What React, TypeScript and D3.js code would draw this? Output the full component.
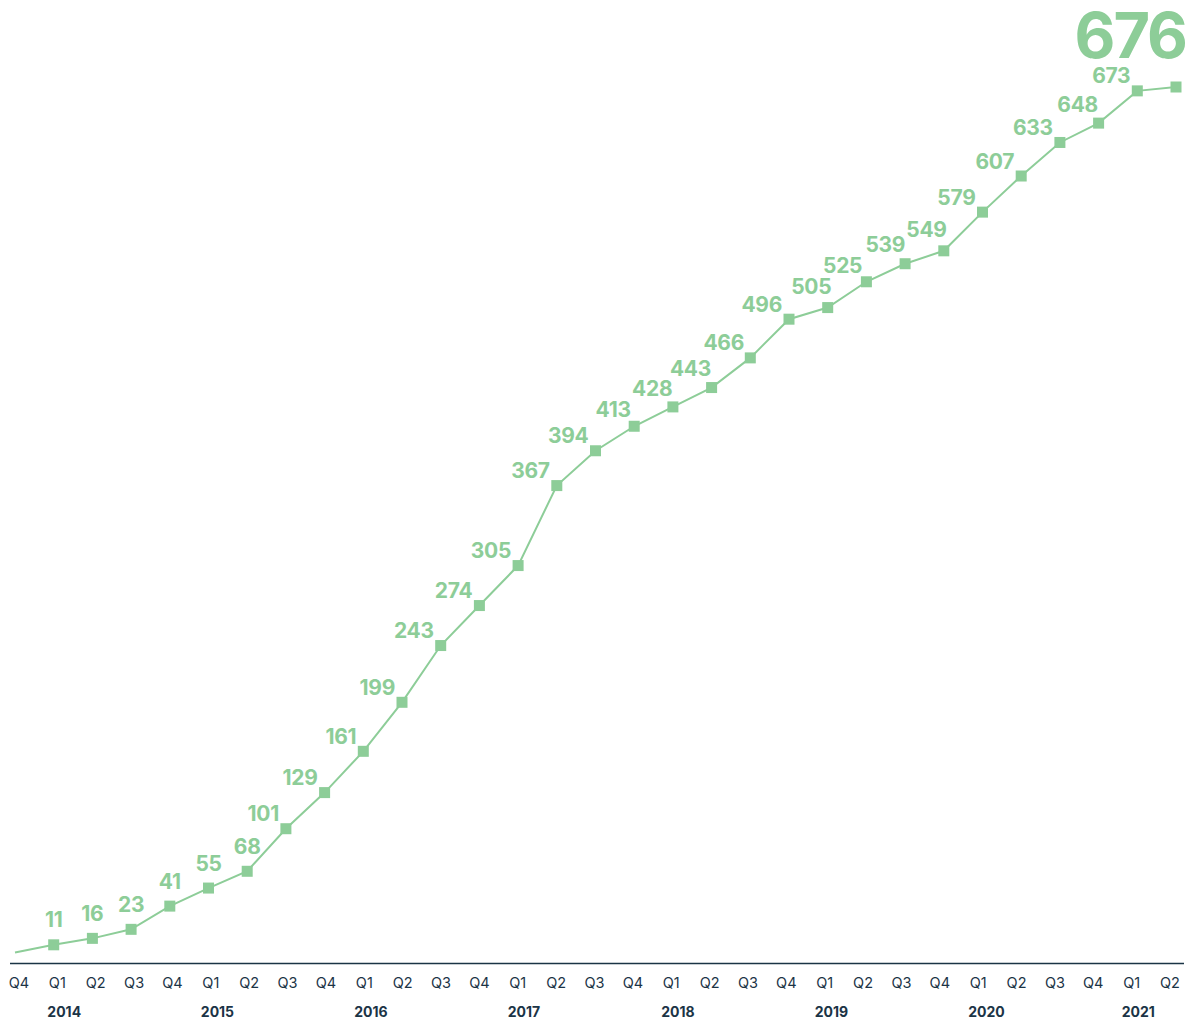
import React from "react";
import * as d3 from "d3";

const quarters = ["Q4","Q1","Q2","Q3","Q4","Q1","Q2","Q3","Q4","Q1","Q2","Q3","Q4","Q1","Q2","Q3","Q4","Q1","Q2","Q3","Q4","Q1","Q2","Q3","Q4","Q1","Q2","Q3","Q4","Q1","Q2"];
const years = [
  { label: "2014", index: 1 },
  { label: "2015", index: 5 },
  { label: "2016", index: 9 },
  { label: "2017", index: 13 },
  { label: "2018", index: 17 },
  { label: "2019", index: 21 },
  { label: "2020", index: 25 },
  { label: "2021", index: 29 },
];
const values = [5, 11, 16, 23, 41, 55, 68, 101, 129, 161, 199, 243, 274, 305, 367, 394, 413, 428, 443, 466, 496, 505, 525, 539, 549, 579, 607, 633, 648, 673, 676];

const GREEN = "#8dcd98";
const NAVY = "#1b3446";
const FONT = "Inter, Lato, sans-serif";

export default function App() {
  const W = 1199, H = 1021;
  const x = d3.scaleLinear().domain([0, values.length - 1]).range([15, 1176]);
  const xt = d3.scaleLinear().domain([0, values.length - 1]).range([19, 1170]);
  const y = d3.scaleLinear().domain([0, 676]).range([959, 87]);
  const line = d3.line<number>().x((_, i) => x(i)).y((d) => y(d));
  const pts = values.map((v, i) => [x(i), y(v)]);
  const n = values.length;

  // label placement rule: short labels sit above the marker; longer labels sit
  // to the upper-left, moving further left/down where the incoming segment is steep.
  const labels = values.map((v, i) => {
    if (i === 0 || i === n - 1) return null;
    const p = pts[i];
    const a = pts[i - 1];
    const slope = Math.abs((p[1] - a[1]) / (p[0] - a[0]));
    const s = String(v);
    if (s.length < 3) {
      return { s, x: p[0], y: p[1] - 25, anchor: "middle" };
    }
    const t = Math.max(0, Math.min(1, slope / 0.8));
    return { s, x: p[0] + 10 - 17 * t, y: p[1] - 25 + 10 * t, anchor: "end" };
  });

  return (
    <svg width={W} height={H} style={{ display: "block", position: "absolute", left: 0, top: 0 }} fontFamily={FONT}>
      <line x1={10} x2={1184} y1={963.5} y2={963.5} stroke={NAVY} strokeWidth={1.5} />
      <path d={line(values) || ""} fill="none" stroke={GREEN} strokeWidth={2} />
      {pts.map((p, i) => i === 0 ? null : (
        <rect key={i} x={p[0] - 5.5} y={p[1] - 5.5} width={11} height={11} fill={GREEN} />
      ))}
      {labels.map((l, i) => l && (
        <text key={i} x={l.x} y={l.y} textAnchor={l.anchor} dominantBaseline="central" fill={GREEN} fontSize={21} fontWeight={700} letterSpacing={-0.3}>{l.s}</text>
      ))}
      <text x={1186} y={58} textAnchor="end" fill={GREEN} fontSize={63} fontWeight={700} letterSpacing={-2}>{values[n - 1]}</text>
      {quarters.map((q, i) => (
        <text key={i} x={xt(i)} y={988} textAnchor="middle" fill={NAVY} fontSize={14.5}>{q}</text>
      ))}
      {years.map((yr) => (
        <text key={yr.label} x={xt(yr.index) - 10} y={1017} textAnchor="start" fill={NAVY} fontSize={14} fontWeight={700}>{yr.label}</text>
      ))}
    </svg>
  );
}
